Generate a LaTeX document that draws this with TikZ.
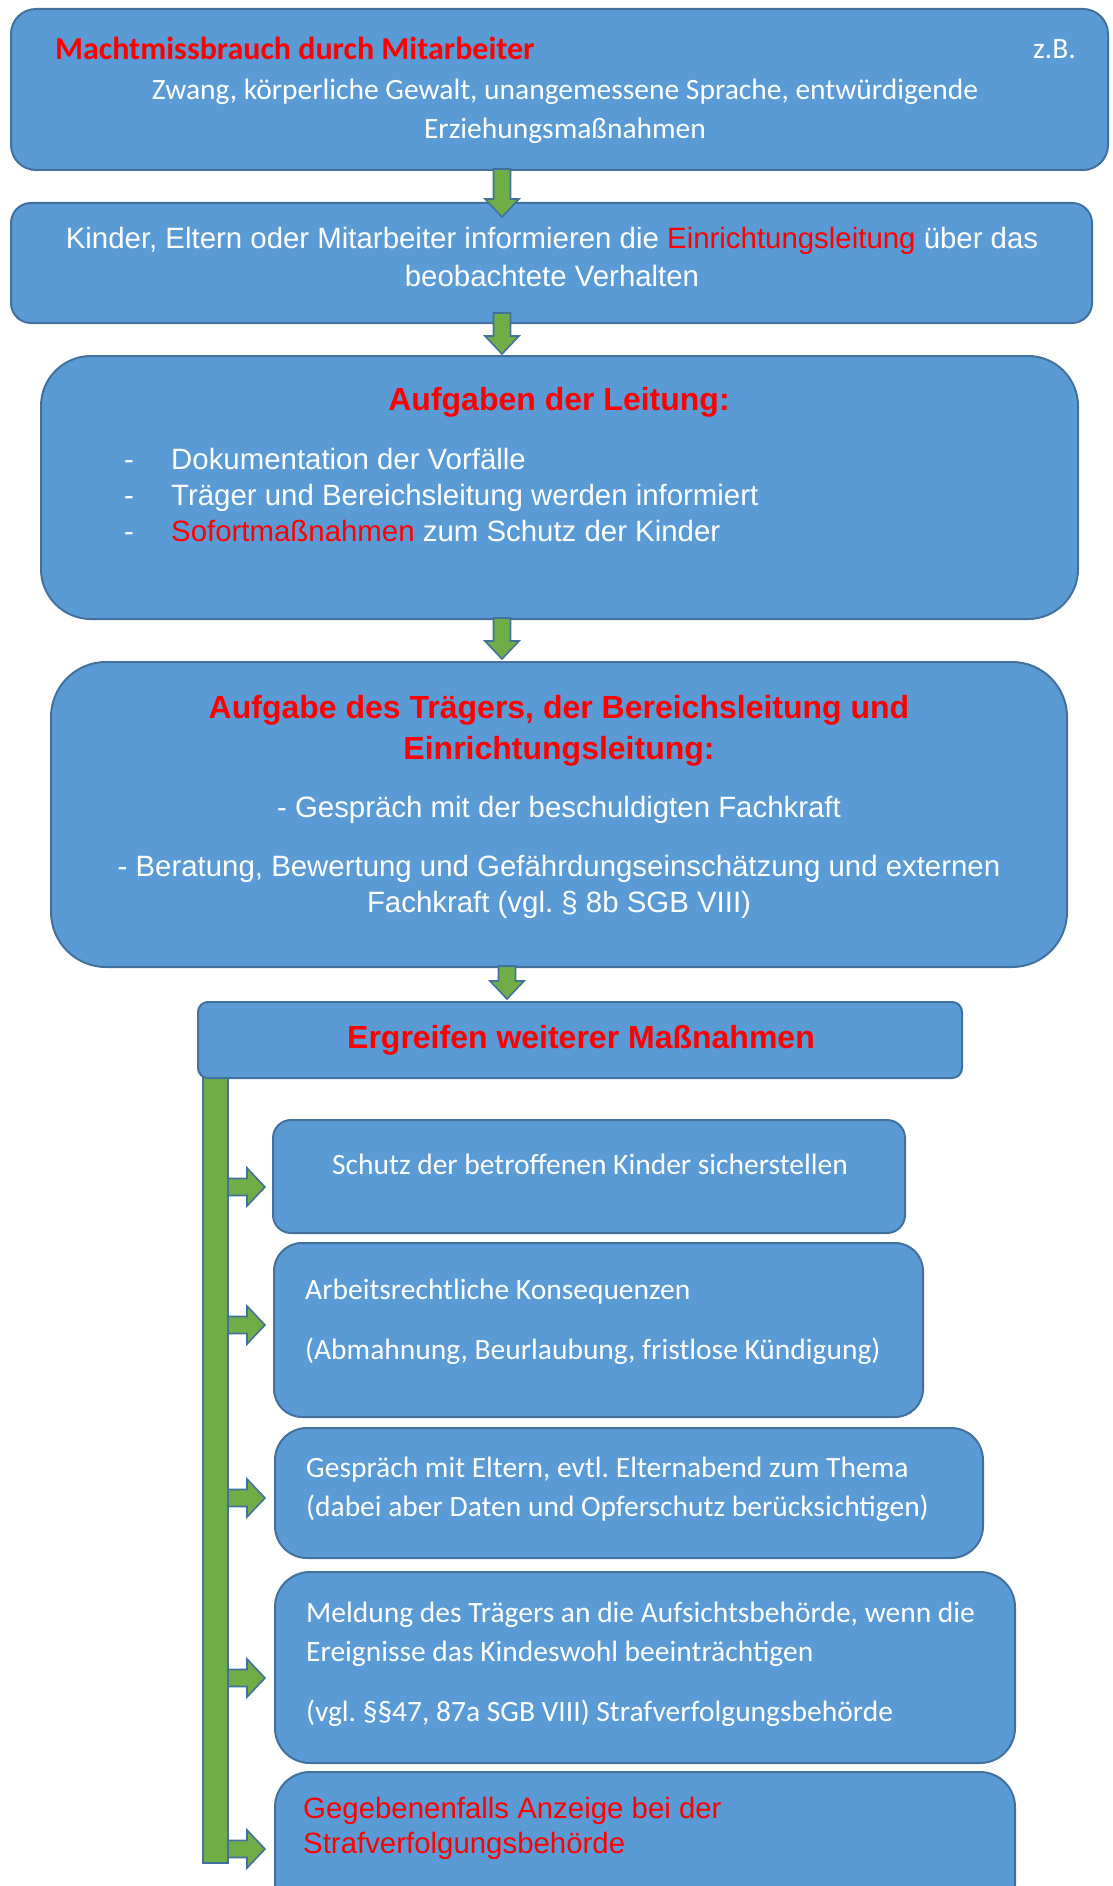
\documentclass[tikz,border=0pt]{standalone}
\usepackage{fontspec}
\setmainfont{Liberation Sans}
\newfontfamily\calibri{Carlito}
\usetikzlibrary{calc,positioning}
\frenchspacing

\definecolor{boxblue}{HTML}{5B9BD5}
\definecolor{boxline}{HTML}{41719C}
\definecolor{arrowgreen}{HTML}{70AD47}
\definecolor{alertred}{HTML}{FF0000}

\tikzset{
  flowbox/.style={draw=boxline, fill=boxblue, line width=2pt, inner sep=0pt},
  bartrack/.style={draw=boxline, fill=arrowgreen, line width=2pt, inner sep=0pt},
  garrow/.style={draw=boxline, fill=arrowgreen, line width=1.6pt, line join=miter},
  arialtxt/.style={font=\fontsize{29.4}{35}\selectfont, text=white, inner sep=0pt, text height=21pt, text depth=0pt},
  arialhead/.style={font=\fontsize{32}{38}\selectfont\bfseries, text=alertred, inner sep=0pt, text height=23pt, text depth=0pt},
  caltxt/.style={font=\calibri\fontsize{29.5}{35}\selectfont, text=white, inner sep=0pt, text height=19pt, text depth=0pt},
  calhead/.style={font=\calibri\fontsize{32}{38}\selectfont\bfseries, text=alertred, inner sep=0pt, text height=20.6pt, text depth=0pt},
}

% block arrow pointing down: #1 start, #2 tip
\newcommand{\flowdown}[2]{%
  \filldraw[garrow] let \p1=(#1), \p2=(#2) in
    (\x1-8.5pt,\y1) -- (\x1+8.5pt,\y1) -- (\x1+8.5pt,\y2+18pt) -- (\x1+17pt,\y2+18pt)
    -- (\x1,\y2) -- (\x1-17pt,\y2+18pt) -- (\x1-8.5pt,\y2+18pt) -- cycle;}
% block arrow pointing right: #1 start, #2 tip
\newcommand{\flowright}[2]{%
  \filldraw[garrow] let \p1=(#1), \p2=(#2) in
    (\x1,\y1+8.5pt) -- (\x2-18pt,\y1+8.5pt) -- (\x2-18pt,\y1+19pt) -- (\x2,\y1)
    -- (\x2-18pt,\y1-19pt) -- (\x2-18pt,\y1-8.5pt) -- (\x1,\y1-8.5pt) -- cycle;}

\begin{document}
\begin{tikzpicture}[x=1pt, y=-1pt]
  \useasboundingbox (0,0) rectangle (1112,1886);
  \coordinate (ax) at (502,0);
  \coordinate (ax4) at (507,0);

  % --- main chain ---
  \node[flowbox, rounded corners=25pt, minimum width=1097pt, minimum height=161pt] (b1) at (559.5,89.5) {};
  \node[flowbox, rounded corners=20pt, minimum width=1081pt, minimum height=120pt] (b2) at (551.5,263) {};
  \node[flowbox, rounded corners=50pt, minimum width=1037pt, minimum height=263pt] (b3) at (559.5,487.5) {};
  \node[flowbox, rounded corners=55pt, minimum width=1016pt, minimum height=305pt] (b4) at (559,814.5) {};

  % --- green track and sub-steps ---
  \node[bartrack, minimum width=25pt, minimum height=788pt] (bar) at (215.5,1469) {};
  \node[flowbox, rounded corners=10pt, minimum width=764pt, minimum height=76pt] (b5) at (580,1040) {};
  \node[flowbox, rounded corners=18pt, minimum width=632pt, minimum height=113pt] (s1) at (589,1176.5) {};
  \node[flowbox, rounded corners=28pt, minimum width=649pt, minimum height=174pt] (s2) at (598.5,1330) {};
  \node[flowbox, rounded corners=32pt, minimum width=708pt, minimum height=130pt] (s3) at (629,1493) {};
  \node[flowbox, rounded corners=35pt, minimum width=740pt, minimum height=191pt] (s4) at (645,1667.5) {};
  \node[flowbox, rounded corners=35pt, minimum width=740pt, minimum height=148pt] (s5) at (645,1846) {};

  % Arrows
  \flowdown{$(b1.south -| ax)+(0,-2)$}{$(b2.north -| ax)+(0,15)$}
  \flowdown{$(b2.south -| ax)+(0,-11)$}{$(b3.north -| ax)+(0,-1)$}
  \flowdown{$(b3.south -| ax)+(0,-2)$}{$(b4.north -| ax)+(0,-2)$}
  \flowdown{$(b4.south -| ax4)+(0,-2)$}{$(b5.north -| ax4)+(0,-2)$}
  \flowright{$(bar.east |- s1.west)+(-1,10.5)$}{$(s1.west)+(-7,10.5)$}
  \flowright{$(bar.east |- s2.west)+(-1,-5)$}{$(s2.west)+(-8,-5)$}
  \flowright{$(bar.east |- s3.west)+(-1,5)$}{$(s3.west)+(-9,5)$}
  \flowright{$(bar.east |- s4.west)+(-1,10.5)$}{$(s4.west)+(-9,10.5)$}
  \flowright{$(bar.east |- s5.west)+(-1,3)$}{$(s5.west)+(-9,3)$}

  % Box 1
  \node[calhead, anchor=west] (t1a) at (55,49) {Machtmissbrauch durch Mitarbeiter};
  \node[caltxt, anchor=east] (t1b) at (1076,49) {z.B.};
  \node[caltxt] (t1c) at (565,90) {Zwang, körperliche Gewalt, unangemessene Sprache, entwürdigende};
  \node[caltxt] (t1d) at (565,129) {Erziehungsmaßnahmen};

  % Box 2
  \node[arialtxt] (t2a) at (552,238) {Kinder, Eltern oder Mitarbeiter informieren die \textcolor{alertred}{Einrichtungsleitung} über das};
  \node[arialtxt] (t2b) at (552,276) {beobachtete Verhalten};

  % Box 3
  \node[arialhead] (t3h) at (559,399) {Aufgaben der Leitung:};
  \node[arialtxt, anchor=west] (d1) at (124,459) {-};
  \node[arialtxt, anchor=west] (d2) at (124,495) {-};
  \node[arialtxt, anchor=west] (d3) at (124,531) {-};
  \node[arialtxt, anchor=west] (t3a) at (171,459) {Dokumentation der Vorfälle};
  \node[arialtxt, anchor=west] (t3b) at (171,495) {Träger und Bereichsleitung werden informiert};
  \node[arialtxt, anchor=west] (t3c) at (171,531) {\textcolor{alertred}{Sofortmaßnahmen} zum Schutz der Kinder};

  % Box 4
  \node[arialhead] (t4h) at (559,707) {Aufgabe des Trägers, der Bereichsleitung und};
  \node[arialhead] (t4i) at (559,748) {Einrichtungsleitung:};
  \node[arialtxt] (t4a) at (559,807) {- Gespräch mit der beschuldigten Fachkraft};
  \node[arialtxt] (t4b) at (559,866) {- Beratung, Bewertung und Gefährdungseinschätzung und externen};
  \node[arialtxt] (t4c) at (559,902) {Fachkraft (vgl. § 8b SGB VIII)};

  % Box 5 and sub-steps
  \node[arialhead] (t5h) at (581,1037) {Ergreifen weiterer Maßnahmen};
  \node[caltxt] (ts1) at (590,1165) {Schutz der betroffenen Kinder sicherstellen};
  \node[caltxt, anchor=west] (ts2a) at (305,1290) {Arbeitsrechtliche Konsequenzen};
  \node[caltxt, anchor=west] (ts2b) at (305,1350) {(Abmahnung, Beurlaubung, fristlose Kündigung)};
  \node[caltxt, anchor=west] (ts3a) at (306,1468) {Gespräch mit Eltern, evtl. Elternabend zum Thema};
  \node[caltxt, anchor=west] (ts3b) at (306,1507) {(dabei aber Daten und Opferschutz berücksichtigen)};
  \node[caltxt, anchor=west] (ts4a) at (306,1613) {Meldung des Trägers an die Aufsichtsbehörde, wenn die};
  \node[caltxt, anchor=west] (ts4b) at (306,1652) {Ereignisse das Kindeswohl beeinträchtigen};
  \node[caltxt, anchor=west] (ts4c) at (306,1712) {(vgl. §§47, 87a SGB VIII) Strafverfolgungsbehörde};
  \node[arialtxt, anchor=west, text=alertred] (ts5a) at (303,1808) {Gegebenenfalls Anzeige bei der};
  \node[arialtxt, anchor=west, text=alertred] (ts5b) at (303,1843) {Strafverfolgungsbehörde};
\end{tikzpicture}
\end{document}
